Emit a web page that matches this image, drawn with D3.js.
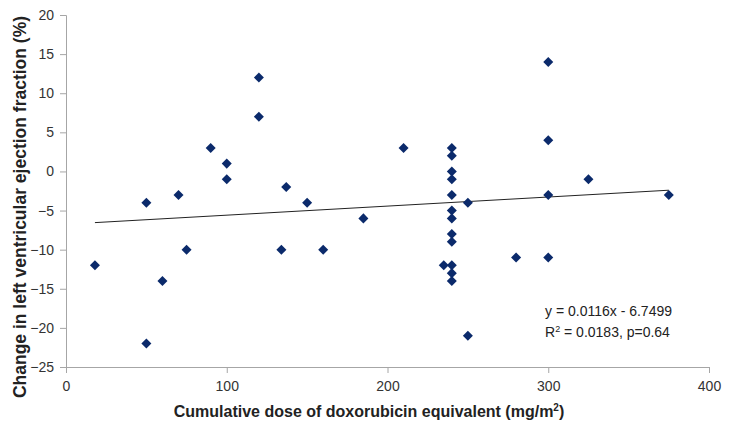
<!DOCTYPE html>
<html>
<head>
<meta charset="utf-8">
<script src="https://cdn.jsdelivr.net/npm/d3@7"></script>
<style>
  body { margin: 0; background: #fff; }
  text { font-family: Arial, "Liberation Sans", sans-serif; }
</style>
</head>
<body>
<div id="chart"></div>
<script>
// dose (mg/m2) and change in LVEF (%)
const doses = [18, 50, 50, 60, 70, 75, 90, 100, 100, 120, 120, 134, 137, 150, 160, 185, 210, 235,
  240, 240, 240, 240, 240, 240, 240, 240, 240, 240, 240, 240,
  250, 250, 280, 300, 300, 300, 300, 325, 375];
const lvefChange = [-12, -4, -22, -14, -3, -10, 3, 1, -1, 12, 7, -10, -2, -4, -10, -6, 3, -12,
  3, 2, 0, -1, -3, -5, -6, -8, -9, -12, -13, -14,
  -4, -21, -11, 14, 4, -3, -11, -1, -3];
const xTicks = [0, 100, 200, 300, 400];
const yTicks = [20, 15, 10, 5, 0, -5, -10, -15, -20, -25];
const slope = 0.0116, intercept = -6.7499;
const fitRange = [18, 375];

const width = 729;
const height = 428;
const margin = { top: 15, bottom: 61, left: 66, right: 20 };

var svg = d3.select('#chart').append('svg')
  .attr('width', width).attr('height', height);

var x = d3.scaleLinear().domain([0, 400]).range([margin.left, 709]);
var y = d3.scaleLinear().domain([-25, 20]).range([height - margin.bottom, margin.top]);

var gx = svg.append('g')
  .attr('transform', 'translate(0,' + y(-25) + ')')
  .call(d3.axisBottom(x).tickValues(xTicks).tickSize(6).tickPadding(8));
var gy = svg.append('g')
  .attr('transform', 'translate(' + x(0) + ',0)')
  .call(d3.axisLeft(y).tickValues(yTicks).tickSize(6).tickPadding(6));

[gx, gy].forEach(g => {
  g.select('.domain').attr('stroke', '#a6a6a6');
  g.selectAll('.tick line').attr('stroke', '#a6a6a6');
  g.selectAll('.tick text').attr('fill', '#333').style('font-size', '14px');
});

// trend line
var line = d3.line().x(d => x(d)).y(d => y(slope * d + intercept));
svg.append('path')
  .datum(fitRange)
  .attr('d', line)
  .attr('fill', 'none')
  .attr('stroke', '#222')
  .attr('stroke-width', 1);

var pts = doses.map((d, i) => ({ dose: d, change: lvefChange[i] }));
svg.selectAll('path.pt')
  .data(pts)
  .enter().append('path')
  .attr('class', 'pt')
  .attr('d', d3.symbol().type(d3.symbolDiamond2).size(64))
  .attr('transform', d => 'translate(' + x(d.dose) + ',' + y(d.change) + ')')
  .attr('fill', '#0b2a6b');

// annotation
var ann = svg.append('text')
  .attr('x', 545).attr('y', 316)
  .attr('fill', '#222')
  .style('font-size', '14px');
ann.append('tspan').text('y = 0.0116x - 6.7499');
ann.append('tspan').attr('x', 545).attr('dy', 21).text('R');
ann.append('tspan').attr('dy', -5).style('font-size', '9px').text('2');
ann.append('tspan').attr('dy', 5).text(' = 0.0183, p=0.64');

// axis titles
var xt = svg.append('text')
  .attr('x', 369).attr('y', 417)
  .attr('text-anchor', 'middle')
  .attr('fill', '#222')
  .style('font-size', '16px').style('font-weight', 'bold');
xt.append('tspan').text('Cumulative dose of doxorubicin equivalent (mg/m');
xt.append('tspan').attr('dy', -6).style('font-size', '10px').text('2');
xt.append('tspan').attr('dy', 6).text(')');

svg.append('text')
  .attr('transform', 'translate(26,' + 207 + ') rotate(-90)')
  .attr('text-anchor', 'middle')
  .attr('fill', '#222')
  .style('font-size', '17.5px').style('font-weight', 'bold')
  .text('Change in left ventricular ejection fraction (%)');
</script>
</body>
</html>
